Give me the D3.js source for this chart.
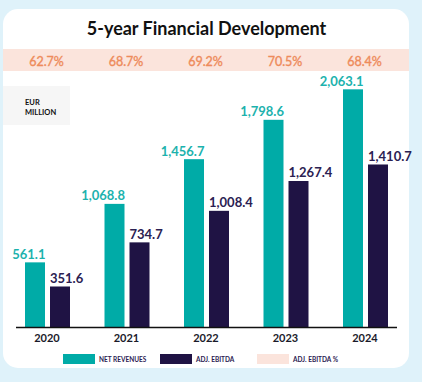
<!DOCTYPE html>
<html><head><meta charset="utf-8">
<script src="https://cdn.jsdelivr.net/npm/d3@7"></script>
<style>
html,body{margin:0;padding:0;background:#dff2fa;}
svg{display:block;font-family:Lato,"Open Sans",sans-serif;}
</style></head>
<body>
<script>
const years = ["2020","2021","2022","2023","2024"];
const netRevenues = [561.1, 1068.8, 1456.7, 1798.6, 2063.1];
const adjEbitda = [351.6, 734.7, 1008.4, 1267.4, 1410.7];
const ebitdaPct = ["62.7%","68.7%","69.2%","70.5%","68.4%"];
const seriesNames = ["NET REVENUES","ADJ. EBITDA","ADJ. EBITDA %"];
const fmt = d3.format(",.1f");

const W = 422, H = 382;
const teal = "#00aba7", dark = "#1f1344", pink = "#fbe4dc";
const svg = d3.select("body").append("svg").attr("width", W).attr("height", H);
svg.append("rect").attr("width", W).attr("height", H).attr("fill", "#dff2fa");
svg.append("rect").attr("x", 3).attr("y", 9).attr("width", 406).attr("height", 359)
  .attr("rx", 15).attr("fill", "#fff");

svg.append("text").attr("x", 206.5).attr("y", 35).attr("text-anchor", "middle")
  .attr("font-size", 18).attr("font-weight", "bold").attr("fill", "#111")
  .text("5-year Financial Development");

// pink band
svg.append("rect").attr("x", 3).attr("y", 49).attr("width", 406).attr("height", 22).attr("fill", pink);

const x = d3.scalePoint().domain(years).range([47.5, 365.5]);
const sub = d3.scaleBand().domain(["rev","ebitda"]).range([-22.5, 22.5]).paddingInner(0.2);
const y = d3.scaleLinear().domain([0, 2100]).range([327, 327 - 2100 * 0.1152]);

svg.append("g").selectAll("text").data(years).join("text")
  .attr("x", (d) => x(d) - 1).attr("y", 65.5).attr("text-anchor", "middle")
  .attr("font-size", 12.5).attr("fill", "#ee8b5b")
  .attr("stroke", "#ee8b5b").attr("stroke-width", 0.35)
  .text((d, i) => ebitdaPct[i]);

// EUR MILLION box
svg.append("rect").attr("x", 3).attr("y", 86).attr("width", 67).attr("height", 39).attr("fill", "#f6f6f6");
svg.append("text").attr("x", 25).attr("y", 104.5).attr("font-size", 7.5).attr("font-weight", "bold").attr("fill", "#111").text("EUR");
svg.append("text").attr("x", 25).attr("y", 115).attr("font-size", 7.5).attr("font-weight", "bold").attr("fill", "#111").text("MILLION");

// bars
const g = svg.append("g");
g.selectAll("rect.rev").data(years).join("rect").attr("class","rev")
  .attr("x", (d) => x(d) + sub("rev")).attr("width", sub.bandwidth())
  .attr("y", (d, i) => y(netRevenues[i])).attr("height", (d, i) => y(0) - y(netRevenues[i]))
  .attr("fill", teal);
g.selectAll("rect.eb").data(years).join("rect").attr("class","eb")
  .attr("x", (d) => x(d) + sub("ebitda")).attr("width", sub.bandwidth())
  .attr("y", (d, i) => y(adjEbitda[i])).attr("height", (d, i) => y(0) - y(adjEbitda[i]))
  .attr("fill", dark);

g.selectAll("text.rev").data(years).join("text").attr("class","rev")
  .attr("x", (d) => x(d) + sub("rev") + sub.bandwidth() + 0.5)
  .attr("y", (d, i) => y(netRevenues[i]) - 3.5)
  .attr("text-anchor", "end").attr("font-size", 13).attr("font-weight", "bold").attr("fill", "#1cb2ad")
  .text((d, i) => fmt(netRevenues[i]));
g.selectAll("text.eb").data(years).join("text").attr("class","eb")
  .attr("x", (d) => x(d) + sub("ebitda"))
  .attr("y", (d, i) => y(adjEbitda[i]) - 3.5)
  .attr("text-anchor", "start").attr("font-size", 13).attr("font-weight", "bold").attr("fill", "#2b2152")
  .text((d, i) => fmt(adjEbitda[i]));

// axis
svg.append("line").attr("x1", 16).attr("x2", 397).attr("y1", y(0) + 0.5).attr("y2", y(0) + 0.5)
  .attr("stroke", "#111").attr("stroke-width", 1.5);
svg.append("g").selectAll("text").data(years).join("text")
  .attr("x", (d) => x(d) - 0.5).attr("y", 341.5).attr("text-anchor", "middle")
  .attr("font-size", 11).attr("font-weight", "bold").attr("fill", "#1a1a2a").text((d) => d);

// legend
const legX = [63, 160, 257];
const legC = [teal, dark, pink];
const lg = svg.append("g").selectAll("g").data(seriesNames).join("g")
  .attr("transform", (d, i) => `translate(${legX[i]},354)`);
lg.append("rect").attr("width", 32).attr("height", 10).attr("fill", (d, i) => legC[i]);
lg.append("text").attr("x", 36).attr("y", 7.5).attr("font-size", 6.5).attr("font-weight", "bold")
  .attr("fill", "#2b2152").text((d) => d);
</script>
</body></html>
